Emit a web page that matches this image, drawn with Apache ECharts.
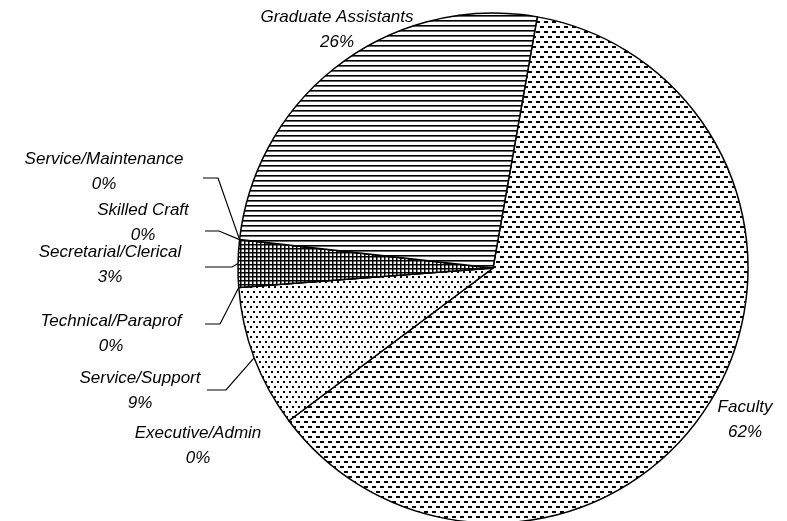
<!DOCTYPE html>
<html>
<head>
<meta charset="utf-8">
<script src="https://cdn.jsdelivr.net/npm/echarts@6/dist/echarts.min.js"></script>
<style>
  html, body { margin: 0; padding: 0; background: #fff; }
  #chart { width: 787px; height: 521px; }
</style>
</head>
<body>
<div id="chart"></div>
<script>
// slice names and their shares (percent), in drawing order (clockwise)
const categories = ['Faculty', 'Executive/Admin', 'Service/Support', 'Technical/Paraprof',
  'Secretarial/Clerical', 'Skilled Craft', 'Service/Maintenance', 'Graduate Assistants'];
const shares = [62, 0, 9, 0, 3, 0, 0, 26];

// where each label block sits, and the elbow of its leader (null = no leader)
const labelSpots = [
  { x: 745, y: 420, leader: null },
  { x: 198, y: 446, leader: null },
  { x: 140, y: 391, leader: { y: 390, x0: 207, x1: 226 } },
  { x: 111, y: 334, leader: { y: 324, x0: 205, x1: 220 } },
  { x: 110, y: 265, leader: { y: 267, x0: 205, x1: 232 } },
  { x: 143, y: 223, leader: { y: 231, x0: 205, x1: 219 } },
  { x: 104, y: 172, leader: { y: 178, x0: 203, x1: 218 } },
  { x: 337, y: 30, leader: null }
];

function makePattern(w, h, draw) {
  var c = document.createElement('canvas');
  c.width = w; c.height = h;
  var ctx = c.getContext('2d');
  ctx.fillStyle = '#fff';
  ctx.fillRect(0, 0, w, h);
  ctx.fillStyle = '#000';
  draw(ctx);
  return { image: c, repeat: 'repeat' };
}

// short staggered dashes
var dashFill = makePattern(8, 10, function (ctx) {
  ctx.fillRect(0, 1, 4, 2);
  ctx.fillRect(4, 6, 4, 2);
});
// horizontal stripes
var stripeFill = makePattern(6, 5, function (ctx) {
  ctx.fillRect(0, 0, 6, 1.6);
});
// small grid
var gridFill = makePattern(4, 4, function (ctx) {
  ctx.fillRect(0, 0, 4, 1.5);
  ctx.fillRect(0, 0, 1.5, 4);
});
// sparse dots
var dotFill = makePattern(6, 10, function (ctx) {
  ctx.fillRect(1, 1, 2, 2);
  ctx.fillRect(4, 6, 2, 2);
});
var fills = [dashFill, '#fff', dotFill, '#fff', gridFill, '#fff', '#fff', stripeFill];

var myChart = echarts.init(document.getElementById('chart'));

var dataSet = categories.map(function (name, i) {
  return {
    name: name,
    value: shares[i],
    itemStyle: { color: fills[i] },
    labelLine: { show: !!labelSpots[i].leader }
  };
});

var option = {
  animation: false,
  series: [
    {
      type: 'pie',
      center: [493, 268],
      radius: 255,
      startAngle: 80,
      clockwise: true,
      avoidLabelOverlap: false,
      data: dataSet,
      itemStyle: {
        borderColor: '#000',
        borderWidth: 1.5
      },
      label: {
        show: true,
        position: 'outside',
        fontFamily: 'Liberation Sans, Arial, sans-serif',
        fontStyle: 'italic',
        fontSize: 17,
        lineHeight: 25,
        color: '#000',
        align: 'center',
        formatter: function (p) {
          return p.name + '\n' + Math.round(p.percent) + '%';
        }
      },
      labelLine: {
        lineStyle: { color: '#000', width: 1.2 },
        length: 10,
        length2: 10
      },
      labelLayout: function (params) {
        var spot = labelSpots[params.dataIndex];
        var out = { x: spot.x, y: spot.y, align: 'center', verticalAlign: 'middle' };
        if (spot.leader && params.labelLinePoints) {
          var edge = params.labelLinePoints[0];
          out.labelLinePoints = [
            [edge[0], edge[1]],
            [spot.leader.x1, spot.leader.y],
            [spot.leader.x0, spot.leader.y]
          ];
        }
        return out;
      }
    }
  ]
};

myChart.setOption(option);
</script>
</body>
</html>
